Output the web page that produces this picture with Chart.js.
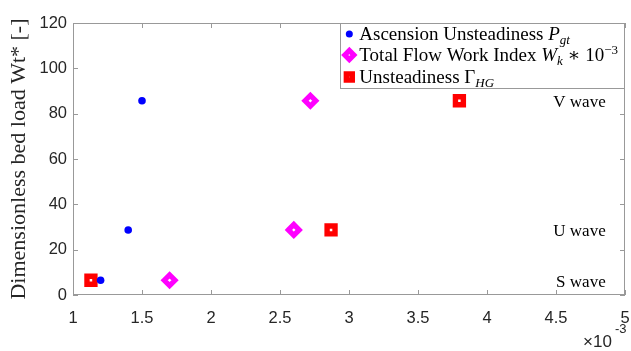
<!DOCTYPE html>
<html>
<head>
<meta charset="utf-8">
<script src="https://cdn.jsdelivr.net/npm/chart.js@4.4.1/dist/chart.umd.min.js"></script>
<style>
  html, body { margin: 0; padding: 0; background: #fff; }
  canvas { display: block; }
</style>
</head>
<body>
<canvas id="chart" width="631" height="351"></canvas>
<script>
// x values are in units of 1e-3 (axis shows the x10^-3 multiplier)
const waveLabels = ["S wave", "U wave", "V wave"];
const loadValues = [6.5, 28.7, 85.7];        // Wt* per wave type
const ascensionX = [1.2, 1.4, 1.5];          // Ascension Unsteadiness P_gt
const flowWorkX = [1.7, 2.6, 2.72];          // Total Flow Work Index W_k * 1e-3
const unsteadinessX = [1.13, 2.87, 3.8];     // Unsteadiness Gamma_HG
const xTicks = [1, 1.5, 2, 2.5, 3, 3.5, 4, 4.5, 5];
const yTicks = [0, 20, 40, 60, 80, 100, 120];

const SERIF = '"Liberation Serif", "DejaVu Serif", serif';
const SANS = '"Liberation Sans", Arial, sans-serif';
const AXIS_COLOR = '#999999';
const TEXT_COLOR = '#262626';

const toPoints = (xs) => xs.map((x, i) => ({ x: x, y: loadValues[i] }));

const datasets = [
  {
    label: 'Ascension Unsteadiness',
    data: toPoints(ascensionX),
    pointStyle: 'circle',
    pointRadius: 3.8,
    backgroundColor: '#0000ff',
    borderWidth: 0,
  },
  {
    label: 'Total Flow Work Index',
    data: toPoints(flowWorkX),
    pointStyle: 'rectRot',
    pointRadius: 5.4,
    borderColor: '#ff00ff',
    backgroundColor: '#ffffff',
    borderWidth: 5.2,
  },
  {
    label: 'Unsteadiness',
    data: toPoints(unsteadinessX),
    pointStyle: 'rect',
    pointRadius: 5.6,
    borderColor: '#ff0000',
    backgroundColor: '#ffffff',
    borderWidth: 5.4,
  },
];

// legend rows, rich text pieces (italic / subscript / superscript)
const legendRows = [
  [{ t: 'Ascension Unsteadiness ' }, { t: 'P', it: true }, { t: 'gt', it: true, sub: true }],
  [{ t: 'Total Flow Work Index ' }, { t: 'W', it: true }, { t: 'k', it: true, sub: true }, { t: ' \u2217 10' }, { t: '\u22123', sup: true }],
  [{ t: 'Unsteadiness \u0393' }, { t: 'HG', it: true, sub: true }],
];

function pieceFont(p, size) {
  const s = (p.sub || p.sup) ? Math.round(size * 0.7) : size;
  return (p.it ? 'italic ' : '') + s + 'px ' + SERIF;
}

function richWidth(ctx, pieces, size) {
  let w = 0;
  pieces.forEach((p) => {
    ctx.font = pieceFont(p, size);
    w += ctx.measureText(p.t).width;
  });
  return w;
}

function drawRich(ctx, pieces, x, y, size) {
  ctx.textBaseline = 'alphabetic';
  ctx.textAlign = 'left';
  pieces.forEach((p) => {
    ctx.font = pieceFont(p, size);
    let dy = 0;
    if (p.sub) dy = 4;
    if (p.sup) dy = -7;
    ctx.fillText(p.t, x, y + dy);
    x += ctx.measureText(p.t).width;
  });
}

const framePlugin = {
  id: 'frame',
  afterDraw(chart) {
    const ctx = chart.ctx;
    const a = chart.chartArea;
    const xs = chart.scales.x;
    const ys = chart.scales.y;
    ctx.save();

    // box + inward ticks
    ctx.strokeStyle = AXIS_COLOR;
    ctx.lineWidth = 1;
    ctx.strokeRect(a.left + 0.5, a.top + 0.5, a.right - a.left - 1, a.bottom - a.top - 1);
    ctx.beginPath();
    xTicks.forEach((v) => {
      const px = Math.round(xs.getPixelForValue(v)) + 0.5;
      ctx.moveTo(px, a.bottom); ctx.lineTo(px, a.bottom - 5);
      ctx.moveTo(px, a.top); ctx.lineTo(px, a.top + 5);
    });
    yTicks.forEach((v) => {
      const py = Math.round(ys.getPixelForValue(v)) + 0.5;
      ctx.moveTo(a.left, py); ctx.lineTo(a.left + 5, py);
      ctx.moveTo(a.right, py); ctx.lineTo(a.right - 5, py);
    });
    ctx.stroke();

    // wave type labels
    ctx.fillStyle = '#000';
    ctx.font = '17px ' + SERIF;
    ctx.textAlign = 'right';
    ctx.textBaseline = 'middle';
    waveLabels.forEach((lbl, i) => {
      ctx.fillText(lbl, xs.getPixelForValue(4.86), ys.getPixelForValue(loadValues[i]) + 2);
    });

    // x10^-3 multiplier
    ctx.fillStyle = TEXT_COLOR;
    ctx.textAlign = 'left';
    ctx.textBaseline = 'alphabetic';
    ctx.font = '17px ' + SANS;
    ctx.fillText('\u00d710', a.right - 42, a.bottom + 52);
    ctx.font = '13px ' + SANS;
    ctx.fillText('-3', a.right - 10, a.bottom + 38);

    // legend
    const size = 19;
    const textW = Math.max(...legendRows.map((r) => richWidth(ctx, r, size)));
    const boxW = textW + 26;
    const boxH = 65;
    const bx = a.right - boxW;
    const by = a.top;
    ctx.fillStyle = '#fff';
    ctx.fillRect(bx, by, boxW, boxH);
    ctx.strokeStyle = AXIS_COLOR;
    ctx.lineWidth = 1;
    ctx.strokeRect(Math.round(bx) + 0.5, by + 0.5, Math.round(boxW) - 1, boxH);
    const rowY = [by + 11, by + 32, by + 54];
    const markerSizes = [3.5, 4.5, 4.2];
    datasets.forEach((ds, i) => {
      ctx.fillStyle = ds.backgroundColor;
      ctx.strokeStyle = ds.borderColor || ds.backgroundColor;
      ctx.lineWidth = ds.borderWidth;
      Chart.helpers.drawPoint(ctx, {
        pointStyle: ds.pointStyle,
        radius: markerSizes[i],
        borderWidth: ds.borderWidth,
        rotation: 0,
      }, bx + 9, rowY[i]);
      ctx.fillStyle = '#000';
      drawRich(ctx, legendRows[i], bx + 19, rowY[i] + 6, size);
    });

    ctx.restore();
  },
};

new Chart(document.getElementById('chart'), {
  type: 'scatter',
  data: { datasets: datasets },
  options: {
    responsive: false,
    devicePixelRatio: 1,
    animation: false,
    // big markers would otherwise push the plot area inwards
    layout: { autoPadding: false, padding: { top: 23, right: 6, left: 0, bottom: 0 } },
    plugins: { legend: { display: false }, tooltip: { enabled: false } },
    scales: {
      x: {
        type: 'linear',
        min: 1,
        max: 5,
        afterBuildTicks: (s) => { s.ticks = xTicks.map((v) => ({ value: v })); },
        afterFit: (s) => { s.height = 56; s.paddingLeft = 0; s.paddingRight = 0; },
        grid: { display: false, drawTicks: false },
        border: { display: false },
        ticks: {
          padding: 14,
          color: TEXT_COLOR,
          font: { family: SANS, size: 16.5 },
          callback: (v) => String(v),
        },
      },
      y: {
        type: 'linear',
        min: 0,
        max: 120,
        afterBuildTicks: (s) => { s.ticks = yTicks.map((v) => ({ value: v })); },
        afterFit: (s) => { s.width = 73; s.paddingTop = 0; s.paddingBottom = 0; },
        grid: { display: false, drawTicks: false },
        border: { display: false },
        ticks: {
          padding: 6,
          color: TEXT_COLOR,
          font: { family: SANS, size: 16.5 },
        },
        title: {
          display: true,
          text: 'Dimensionless bed load Wt* [-]',
          color: TEXT_COLOR,
          font: { family: SERIF, size: 22 },
          padding: { top: 6, bottom: 0 },
        },
      },
    },
  },
  plugins: [framePlugin],
});
</script>
</body>
</html>
